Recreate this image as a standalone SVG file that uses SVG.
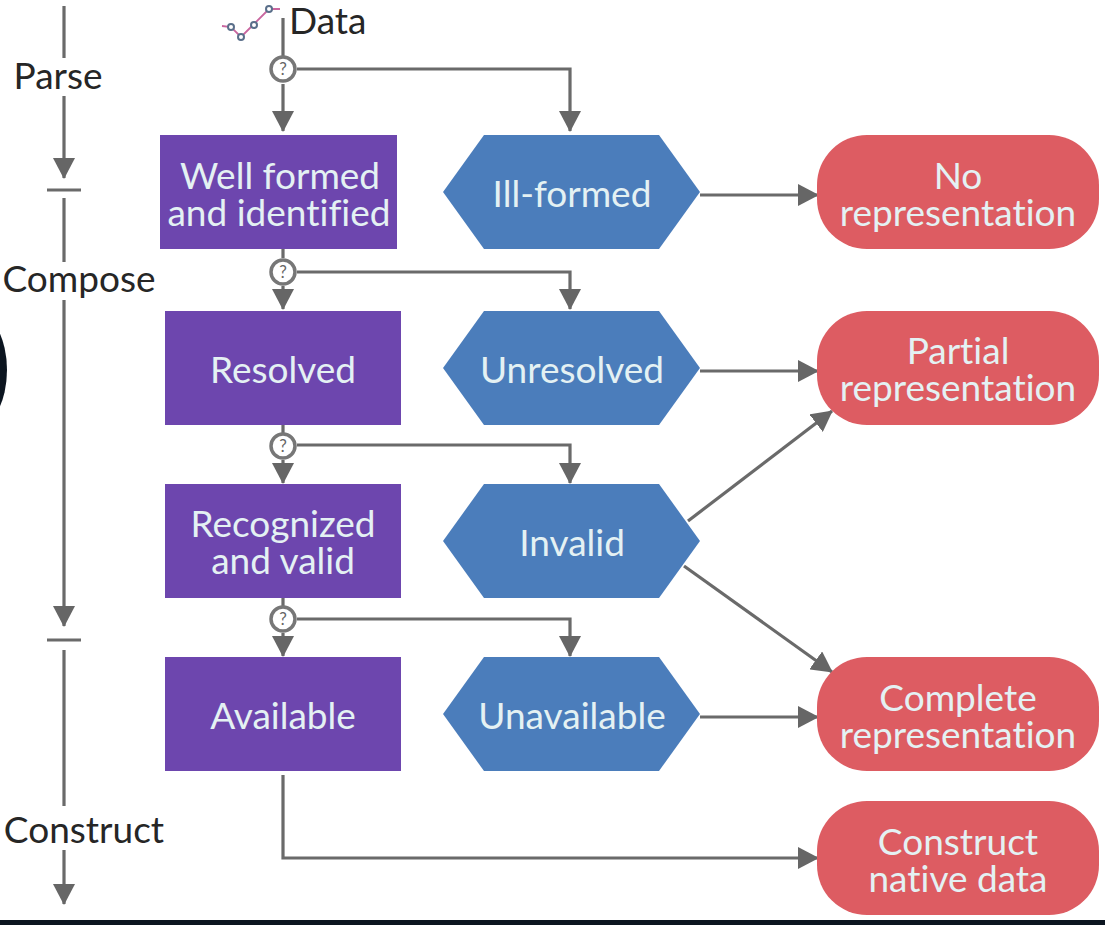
<svg xmlns="http://www.w3.org/2000/svg" width="1105" height="925" viewBox="0 0 1105 925">
<style>
text{font-family:Lato,"Open Sans",sans-serif;font-size:37px;text-anchor:middle;font-variant-ligatures:none}
.w{fill:#e4f1f3}
.k{fill:#262626}
.p{fill:#6d46ae}
.b{fill:#4b7dbb}
.r{fill:#dd5c62}
.l{fill:none;stroke:#6a6a6a;stroke-width:3.2}
.q circle{fill:#fff;stroke:#777;stroke-width:3.5}
.q text{font-size:17px;fill:#666}
</style>
<defs>
<marker id="a" markerUnits="userSpaceOnUse" markerWidth="22" markerHeight="22" refX="20" refY="11" orient="auto"><path d="M0 0L21 11L0 22Z" fill="#666"/></marker>
</defs>
<rect width="1105" height="925" fill="#fff"/>
<ellipse cx="-25" cy="370" rx="32" ry="58" fill="#0c1520"/>
<rect x="0" y="920" width="1105" height="5" fill="#0c1520"/>
<g id="connectors" class="l">
<path d="M64 6V58M64 96V178" marker-end="url(#a)"/>
<path d="M47 190H81M64 198V262M64 300V626" marker-end="url(#a)"/>
<path d="M47 640H81M64 650V806M64 850V904" marker-end="url(#a)"/>
<path d="M283 18V56M283 84V131" marker-end="url(#a)"/>
<path d="M297 69H570V131" marker-end="url(#a)"/>
<path d="M283 286V309" marker-end="url(#a)"/>
<path d="M297 272H570V309" marker-end="url(#a)"/>
<path d="M283 246V258M283 425V433M283 460V483" marker-end="url(#a)"/>
<path d="M297 445H570V483" marker-end="url(#a)"/>
<path d="M283 598V606M283 633V656" marker-end="url(#a)"/>
<path d="M297 619H570V656" marker-end="url(#a)"/>
<path d="M700 195H818" marker-end="url(#a)"/>
<path d="M700 371H818" marker-end="url(#a)"/>
<path d="M688 521L832 411" marker-end="url(#a)"/>
<path d="M684 566L832 672" marker-end="url(#a)"/>
<path d="M700 717H818" marker-end="url(#a)"/>
<path d="M283 775V858H818" marker-end="url(#a)"/>
</g>
<g id="data-icon" fill="none">
<path d="M222 26L231 27L241 37L253 25L269 9L280 9" stroke="#c9669f" stroke-width="1.8"/>
<g stroke="#5a6f8a" stroke-width="2" fill="#fff"><circle cx="231" cy="27" r="3"/><circle cx="241" cy="37" r="3"/><circle cx="254" cy="25" r="3"/><circle cx="269" cy="9" r="3"/></g>
</g>
<g id="gate-1" class="q"><circle cx="283" cy="69" r="12"/><text x="283" y="75">?</text></g>
<g id="gate-2" class="q"><circle cx="283" cy="272" r="12"/><text x="283" y="278">?</text></g>
<g id="gate-3" class="q"><circle cx="283" cy="446" r="12"/><text x="283" y="452">?</text></g>
<g id="gate-4" class="q"><circle cx="283" cy="619" r="12"/><text x="283" y="625">?</text></g>
<g id="label-data"><text class="k" x="289" y="34" style="text-anchor:start">Data</text></g>
<g id="label-parse"><text class="k" x="58" y="89">Parse</text></g>
<g id="label-compose"><text class="k" x="79" y="292">Compose</text></g>
<g id="label-construct"><text class="k" x="84" y="843">Construct</text></g>
<g id="well-formed"><rect class="p" x="160" y="135" width="237" height="114"/><text class="w"><tspan x="280" y="189">Well formed</tspan><tspan x="279" y="226">and identified</tspan></text></g>
<g id="resolved"><rect class="p" x="165" y="311" width="236" height="114"/><text class="w" x="283" y="383">Resolved</text></g>
<g id="recognized"><rect class="p" x="165" y="484" width="236" height="114"/><text class="w"><tspan x="283" y="537">Recognized</tspan><tspan x="283" y="574">and valid</tspan></text></g>
<g id="available"><rect class="p" x="165" y="657" width="236" height="114"/><text class="w" x="283" y="729">Available</text></g>
<g id="ill-formed"><path class="b" d="M443 192L484 135H659L700 192L659 249H484Z"/><text class="w" x="572" y="207">Ill-formed</text></g>
<g id="unresolved"><path class="b" d="M443 368L484 311H659L700 368L659 425H484Z"/><text class="w" x="572" y="383">Unresolved</text></g>
<g id="invalid"><path class="b" d="M443 541L484 484H659L700 541L659 598H484Z"/><text class="w" x="572" y="556">Invalid</text></g>
<g id="unavailable"><path class="b" d="M443 714L484 657H659L700 714L659 771H484Z"/><text class="w" x="572" y="729">Unavailable</text></g>
<g id="no-representation"><rect class="r" x="817" y="135" width="282" height="114" rx="50"/><text class="w"><tspan x="958" y="189">No</tspan><tspan x="958" y="226">representation</tspan></text></g>
<g id="partial-representation"><rect class="r" x="817" y="311" width="282" height="114" rx="50"/><text class="w"><tspan x="958" y="364">Partial</tspan><tspan x="958" y="401">representation</tspan></text></g>
<g id="complete-representation"><rect class="r" x="817" y="657" width="282" height="114" rx="50"/><text class="w"><tspan x="958" y="711">Complete</tspan><tspan x="958" y="748">representation</tspan></text></g>
<g id="construct-native"><rect class="r" x="817" y="801" width="282" height="114" rx="50"/><text class="w"><tspan x="958" y="855">Construct</tspan><tspan x="958" y="892">native data</tspan></text></g>
</svg>
